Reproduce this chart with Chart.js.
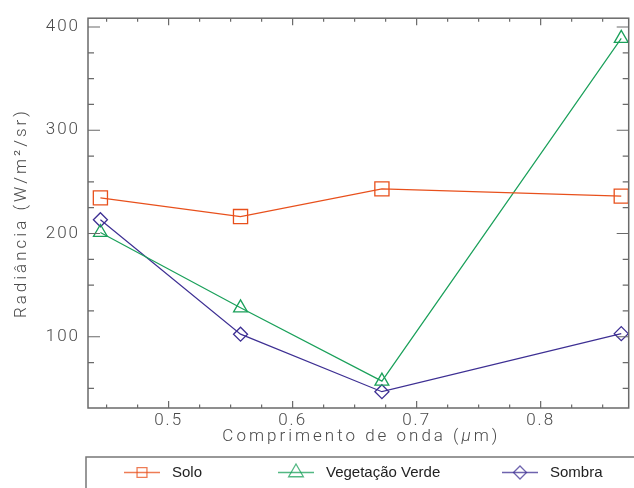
<!DOCTYPE html>
<html>
<head>
<meta charset="utf-8">
<script src="https://cdn.jsdelivr.net/npm/chart.js@4.4.1/dist/chart.umd.min.js"></script>
<style>
  html, body { margin: 0; padding: 0; background: #fff; overflow: hidden; }
  #wrap { width: 640px; height: 488px; }
</style>
</head>
<body>
<div id="wrap"><canvas id="c" width="640" height="488"></canvas></div>
<script>
// data
const wavelengths = [0.445, 0.558, 0.672, 0.865];
const solo = [234.5, 216.4, 243.2, 236.2];
const vegetacao = [201, 128, 57, 389];
const sombra = [213.3, 102.5, 46.8, 103];
const seriesNames = ['Solo', 'Vegetação Verde', 'Sombra'];
const yTitle = 'Radiância (W/m²/sr)';
const xTitleParts = ['Comprimento de onda (', 'μ', 'm)'];

const axisFont = { family: 'Roboto', weight: '300', size: 17 };
const axisColor = '#4a4a4a';
const frameColor = '#6a6a6a';

function isMultiple(v, step) {
  const r = v / step;
  return Math.abs(r - Math.round(r)) < 1e-6;
}

function pts(ys) {
  return wavelengths.map((x, i) => ({ x: x, y: ys[i] }));
}

// frame with inward ticks, axis titles and boxed legend
const idlFrame = {
  id: 'idlFrame',
  beforeDraw(chart) {
    chart.ctx.letterSpacing = '2px';
  },
  afterDraw(chart) {
    const ctx = chart.ctx;
    const a = chart.chartArea;
    const xs = chart.scales.x, ys = chart.scales.y;
    ctx.save();
    ctx.letterSpacing = '0px';
    ctx.strokeStyle = frameColor;
    ctx.lineWidth = 1.5;
    ctx.strokeRect(a.left, a.top, a.right - a.left, a.bottom - a.top);

    ctx.lineWidth = 1.2;
    ctx.beginPath();
    xs.ticks.forEach(t => {
      const px = xs.getPixelForValue(t.value);
      const len = isMultiple(t.value, 0.1) ? 7 : 3.5;
      ctx.moveTo(px, a.bottom); ctx.lineTo(px, a.bottom - len);
      ctx.moveTo(px, a.top); ctx.lineTo(px, a.top + len);
    });
    ys.ticks.forEach(t => {
      const py = ys.getPixelForValue(t.value);
      const len = isMultiple(t.value, 100) ? 12 : 6;
      ctx.moveTo(a.left, py); ctx.lineTo(a.left + len, py);
      ctx.moveTo(a.right, py); ctx.lineTo(a.right - len, py);
    });
    ctx.stroke();

    // axis titles
    ctx.fillStyle = axisColor;
    ctx.letterSpacing = '3px';
    ctx.textBaseline = 'middle';
    const f = axisFont.weight + ' ' + axisFont.size + 'px ' + axisFont.family;
    const fi = 'italic ' + f;
    const fonts = [f, fi, f];
    let widths = xTitleParts.map((s, i) => { ctx.font = fonts[i]; return ctx.measureText(s).width; });
    let total = widths.reduce((p, q) => p + q, 0);
    let x = (a.left + a.right) / 2 + 3 - total / 2;
    const ty = a.bottom + 29;
    ctx.textAlign = 'left';
    xTitleParts.forEach((s, i) => { ctx.font = fonts[i]; ctx.fillText(s, x, ty); x += widths[i]; });

    ctx.save();
    ctx.translate(22, (a.top + a.bottom) / 2);
    ctx.rotate(-Math.PI / 2);
    ctx.font = f;
    ctx.textAlign = 'center';
    ctx.fillText(yTitle, 0, 0);
    ctx.restore();

    // legend box
    ctx.letterSpacing = '0px';
    const boxTop = 457;
    ctx.strokeStyle = '#777';
    ctx.lineWidth = 1.5;
    ctx.strokeRect(a.left - 2, boxTop, 700, 80);
    const starts = [124, 278, 502];
    const legendRadius = [7, 8.5, 6.5];
    const ly = 472.5;
    chart.data.datasets.forEach((ds, i) => {
      const x0 = starts[i];
      ctx.globalAlpha = 0.75;
      ctx.strokeStyle = ds.borderColor;
      ctx.fillStyle = 'rgba(0,0,0,0)';
      ctx.lineWidth = 1.6;
      ctx.beginPath(); ctx.moveTo(x0, ly); ctx.lineTo(x0 + 36, ly); ctx.stroke();
      ctx.lineWidth = 1.3;
      Chart.helpers.drawPoint(ctx, {
        pointStyle: ds.pointStyle, radius: legendRadius[i], borderWidth: 1.3, rotation: 0
      }, x0 + 18, ly);
      ctx.globalAlpha = 1;
      ctx.fillStyle = '#222';
      ctx.font = '15px "Liberation Sans", Arial, sans-serif';
      ctx.textAlign = 'left';
      ctx.textBaseline = 'middle';
      ctx.fillText(ds.label, x0 + 48, ly);
    });
    ctx.restore();
  }
};

new Chart(document.getElementById('c'), {
  type: 'line',
  data: {
    datasets: [
      {
        label: seriesNames[0], data: pts(solo),
        borderColor: '#e8501c', pointStyle: 'rect', pointRadius: 10
      },
      {
        label: seriesNames[1], data: pts(vegetacao),
        borderColor: '#1aa05a', pointStyle: 'triangle', pointRadius: 8
      },
      {
        label: seriesNames[2], data: pts(sombra),
        borderColor: '#3d2f93', pointStyle: 'rectRot', pointRadius: 7
      }
    ].map(d => Object.assign(d, {
      borderWidth: 1.2,
      backgroundColor: 'rgba(0,0,0,0)',
      pointBackgroundColor: 'rgba(0,0,0,0)',
      pointBorderColor: d.borderColor,
      pointBorderWidth: 1.3,
      pointHoverRadius: d.pointRadius,
      tension: 0,
      clip: false
    }))
  },
  options: {
    responsive: false,
    animation: false,
    layout: { padding: { left: 0, right: 4, top: 13, bottom: 0 } },
    plugins: { legend: { display: false }, tooltip: { enabled: false } },
    scales: {
      x: {
        type: 'linear', min: 0.435, max: 0.871,
        grid: { display: false, drawTicks: false },
        border: { display: false },
        ticks: {
          stepSize: 0.025, includeBounds: false, autoSkip: false, maxRotation: 0,
          padding: 3, color: axisColor, font: axisFont,
          callback: v => isMultiple(v, 0.1) ? v.toFixed(1) : ''
        },
        afterFit: s => { s.height = 80; }
      },
      y: {
        type: 'linear', min: 31, max: 408.5,
        grid: { display: false, drawTicks: false },
        border: { display: false },
        ticks: {
          stepSize: 25, includeBounds: false, autoSkip: false,
          padding: 8, color: axisColor, font: axisFont,
          callback: v => isMultiple(v, 100) ? String(v) : ''
        },
        afterFit: s => { s.width = 88; }
      }
    }
  },
  plugins: [idlFrame]
});
</script>
</body>
</html>
